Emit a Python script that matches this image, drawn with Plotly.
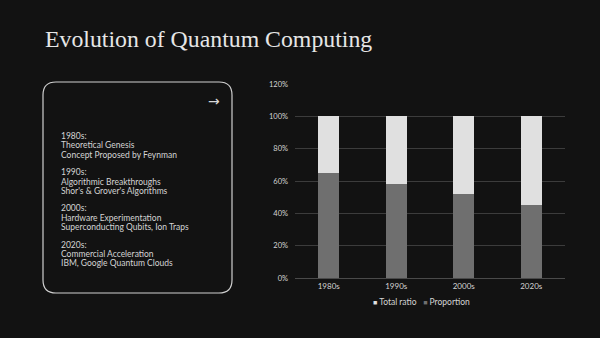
import plotly.graph_objects as go

categories = ["1980s", "1990s", "2000s", "2020s"]
proportion = [65, 58, 52, 45]
total_ratio = [35, 42, 48, 55]
y_ticks = [0, 20, 40, 60, 80, 100, 120]
y_tick_labels = ["0%", "20%", "40%", "60%", "80%", "100%", "120%"]

card_lines = [
    ["1980s:", "Theoretical Genesis", "Concept Proposed by Feynman"],
    ["1990s:", "Algorithmic Breakthroughs", "Shor's & Grover's Algorithms"],
    ["2000s:", "Hardware Experimentation", "Superconducting Qubits, Ion Traps"],
    ["2020s:", "Commercial Acceleration", "IBM, Google Quantum Clouds"],
]

W, H = 600, 338
L, R, T, B = 295, 35, 84, 60
PW, PH = W - L - R, H - T - B

def px(x):
    return (x - L) / PW

def py(y):
    return (H - B - y) / PH

BG = "#121212"
LIGHT = "#e0e0e0"
DARK = "#6f6f6f"
TXT = "#d4d4d4"

fig = go.Figure()
fig.add_trace(go.Bar(x=categories, y=proportion, name="Proportion",
                     marker=dict(color=DARK, line=dict(width=0))))
fig.add_trace(go.Bar(x=categories, y=total_ratio, name="Total ratio",
                     marker=dict(color=LIGHT, line=dict(width=0))))

# rounded card
x0, x1, y0, y1, r = 43, 232, 82, 293, 13
path = (f"M {px(x0+r)},{py(y0)} L {px(x1-r)},{py(y0)} "
        f"Q {px(x1)},{py(y0)} {px(x1)},{py(y0+r)} "
        f"L {px(x1)},{py(y1-r)} Q {px(x1)},{py(y1)} {px(x1-r)},{py(y1)} "
        f"L {px(x0+r)},{py(y1)} Q {px(x0)},{py(y1)} {px(x0)},{py(y1-r)} "
        f"L {px(x0)},{py(y0+r)} Q {px(x0)},{py(y0)} {px(x0+r)},{py(y0)} Z")

shapes = [dict(type="path", xref="paper", yref="paper", path=path,
               line=dict(color="#cfcfcf", width=1.2), fillcolor="rgba(0,0,0,0)")]

annotations = []
annotations.append(dict(text="Evolution of Quantum Computing", x=px(43), y=py(39),
                        xref="paper", yref="paper", xanchor="left", yanchor="middle",
                        showarrow=False,
                        font=dict(family="Liberation Serif", size=23.8, color="#e6e6e6")))
annotations.append(dict(text="→", x=px(213.5), y=py(100.5), xref="paper", yref="paper",
                        xanchor="center", yanchor="middle", showarrow=False,
                        font=dict(family="DejaVu Sans", size=14, color="#d8d8d8")))

y = 136
for block in card_lines:
    for line in block:
        annotations.append(dict(text=line, x=px(58.5), y=py(y), xref="paper", yref="paper",
                                xanchor="left", yanchor="middle", showarrow=False,
                                font=dict(family="Lato", size=8.5, color=TXT)))
        y += 9.4
    y += 8

annotations.append(dict(
    text=f"<span style='color:{LIGHT};font-size:7px'>■</span> Total ratio   <span style='color:{DARK};font-size:7px'>■</span> Proportion",
    x=px(421), y=py(302), xref="paper", yref="paper", xanchor="center", yanchor="middle",
    showarrow=False, font=dict(family="Lato", size=8.5, color=TXT)))

fig.update_layout(
    width=W, height=H, margin=dict(l=L, r=R, t=T, b=B),
    paper_bgcolor=BG, plot_bgcolor=BG,
    barmode="stack", bargap=0.69, showlegend=False,
    shapes=shapes, annotations=annotations,
    xaxis=dict(showgrid=False, showline=True, linecolor="#4a4a4a", linewidth=1,
               ticks="", tickfont=dict(family="Lato", size=8, color=TXT)),
    yaxis=dict(range=[0, 120], tickvals=y_ticks, ticktext=y_tick_labels,
               showgrid=True, gridcolor="#3c3c3c", gridwidth=1, zeroline=False,
               showline=False, tickfont=dict(family="Lato", size=7.5, color=TXT),
               ticklabelstandoff=6),
    font=dict(family="Lato", color=TXT),
)

fig.write_html("out.html")
